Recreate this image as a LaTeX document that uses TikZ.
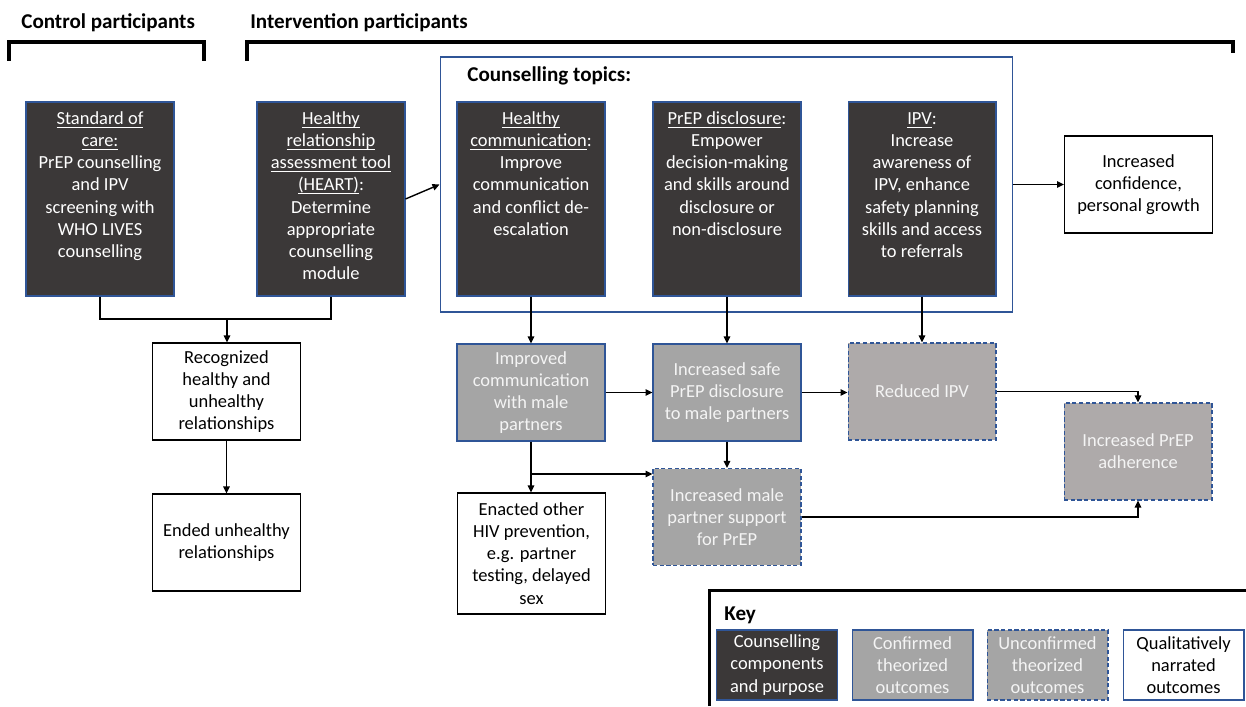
\documentclass[tikz,border=0pt]{standalone}
\usepackage{fontspec}
\setmainfont{Carlito}
\usetikzlibrary{arrows.meta}
\definecolor{counselfill}{RGB}{59,56,56}
\definecolor{edgeblue}{RGB}{47,85,151}
\definecolor{confgray}{RGB}{165,165,165}
\definecolor{warmgray}{RGB}{174,170,170}
\definecolor{paletext}{RGB}{244,244,244}
\newcommand{\ulbox}[1]{\underline{\smash{#1}}}
\newcommand{\toptext}[1]{\parbox[c][3.88cm][t]{2.9cm}{\centering\rule{0pt}{12.8pt}#1}}
\tikzset{
  box/.style={draw=edgeblue, line width=0.6pt, inner sep=0pt, minimum width=2.96cm, minimum height=1.94cm, align=center, font=\fontsize{10.5}{12.6}\selectfont},
  counsel/.style={box, fill=counselfill, text=white, minimum height=3.88cm},
  confirmed/.style={box, fill=confgray, text=paletext},
  unconfirmed/.style={confirmed, dash pattern=on 2.4pt off 1.4pt},
  narrated/.style={box, draw=black, fill=white},
  keybox/.style={minimum width=2.42cm, minimum height=1.4cm},
  arr/.style={-{Triangle[length=1.4mm,width=1.3mm]}, line width=0.8pt},
  conn/.style={line width=0.8pt},
  bracket/.style={line width=2.8pt},
  heading/.style={font=\fontsize{12}{14}\selectfont\bfseries, anchor=base west, inner sep=0pt}
}
\begin{document}
\begin{tikzpicture}[x=0.02cm,y=-0.02cm]
\useasboundingbox (0,0) rectangle (1246,706);

\node[heading] (ctrlhead) at (21,29) {Control participants};
\node[heading] (inthead) at (250,29) {Intervention participants};
\draw[bracket] (9,61) -- (9,42) -- (204,42) -- (204,61);
\draw[bracket] (247,61) -- (247,42) -- (1233,42) -- (1233,53);

\node[draw=edgeblue, line width=0.6pt, minimum width=11.46cm, minimum height=5.1cm, inner sep=0pt] (topics) at (726.5,184.5) {};
\node[heading] (topichead) at (467,82) {Counselling topics:};

\node[counsel] (soc) at (100,199) {\toptext{\ulbox{Standard of}\\\ulbox{care:}\\PrEP counselling\\and IPV\\screening with\\WHO LIVES\\counselling}};
\node[counsel] (heart) at (331,199) {\toptext{\ulbox{Healthy}\\\ulbox{relationship}\\\ulbox{assessment tool}\\\ulbox{(HEART)}:\\Determine\\appropriate\\counselling\\module}};
\node[counsel] (hc) at (531,199) {\toptext{\ulbox{Healthy}\\\ulbox{communication}:\\Improve\\communication\\and conflict de-\\escalation}};
\node[counsel] (pd) at (727,199) {\toptext{\ulbox{PrEP disclosure}:\\Empower\\decision-making\\and skills around\\disclosure or\\non-disclosure}};
\node[counsel] (ipv) at (922,199) {\toptext{\ulbox{IPV}:\\Increase\\awareness of\\IPV, enhance\\safety planning\\skills and access\\to referrals}};
\node[narrated] (conf) at (1138.5,184.5) {Increased\\confidence,\\personal growth};

\node[narrated] (recog) at (226.5,391.5) {Recognized\\healthy and\\unhealthy\\relationships};
\node[narrated] (ended) at (226.5,542.5) {Ended unhealthy\\relationships};
\node[confirmed] (impr) at (531,392.5) {Improved\\communication\\with male\\partners};
\node[confirmed] (safe) at (727,392.5) {Increased safe\\PrEP disclosure\\to male partners};
\node[unconfirmed, fill=warmgray] (red) at (922,391.5) {Reduced IPV};
\node[unconfirmed, fill=warmgray] (adh) at (1138,451.5) {Increased PrEP\\adherence};
\node[narrated, minimum height=2.42cm] (enact) at (531.5,553.5) {Enacted other\\HIV prevention,\\e.g. partner\\testing, delayed\\sex};
\node[unconfirmed] (supp) at (727,517) {Increased male\\partner support\\for PrEP};

\coordinate (join) at (227,319);
\draw[conn] (soc.south) |- (join) -| (heart.south);
\draw[arr] (join) -- (join |- recog.north);
\draw[arr] (recog.south) -- (ended.north);
\draw[arr] (heart.east) -- (topics.west);
\draw[arr] (topics.east) -- (conf.west);
\draw[arr] (hc.south) -- (impr.north);
\draw[arr] (pd.south) -- (safe.north);
\draw[arr] (ipv.south) -- (red.north);
\draw[arr] (impr.east) -- (safe.west);
\draw[arr] (safe.east) -- (safe.east -| red.west);
\draw[arr] (red.east) -| (adh.north);
\draw[arr] (impr.south) -- (impr.south |- enact.north);
\coordinate (fork) at (impr.south |- 0,474);
\draw[arr] (fork) -- (fork -| supp.west);
\draw[arr] (safe.south) -- (supp.north);
\draw[arr] (supp.east) -| (adh.south);

\draw[line width=1.7pt] (709,706) -- (709,590) -- (1246,590);
\node[heading] (keyhead) at (724,620) {Key};
\node[counsel, keybox] (kcounsel) at (777,665) {Counselling\\components\\and purpose};
\node[confirmed, keybox] (kconf) at (912.5,665) {Confirmed\\theorized\\outcomes};
\node[unconfirmed, keybox] (kunconf) at (1047.5,665) {Unconfirmed\\theorized\\outcomes};
\node[narrated, keybox, draw=edgeblue] (knarr) at (1183.5,665) {Qualitatively\\narrated\\outcomes};
\end{tikzpicture}
\end{document}
